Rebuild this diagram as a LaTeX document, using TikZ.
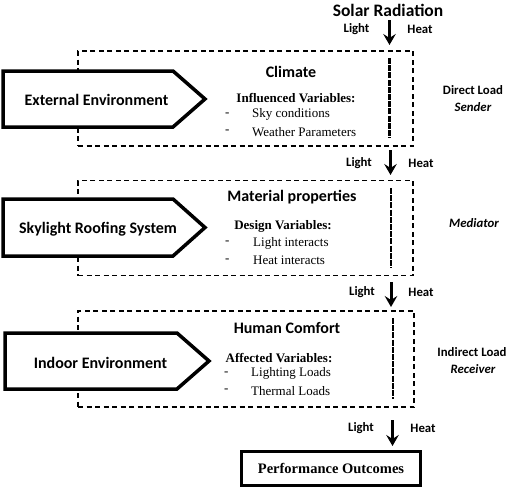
\documentclass[tikz,border=0pt]{standalone}
\usepackage{fontspec}
\setmainfont{Liberation Serif}
\newfontfamily\calfont{Carlito}
\usetikzlibrary{arrows.meta}
\begin{document}
\begin{tikzpicture}[x=1pt,y=-1pt,
  sanslbl/.style={font=\calfont\bfseries\fontsize{12.8}{14}\selectfont, inner sep=0pt},
  sanstitle/.style={font=\calfont\bfseries\fontsize{16}{18}\selectfont, inner sep=0pt},
  sideital/.style={font=\calfont\bfseries\itshape\fontsize{12.8}{14}\selectfont, inner sep=0pt},
  varhead/.style={font=\bfseries\fontsize{13}{15}\selectfont, inner sep=0pt},
  varitem/.style={font=\fontsize{13}{15}\selectfont, inner sep=0pt, anchor=west},
  dashbox/.style={draw, line width=1.2pt, dash pattern=on 5pt off 3.5pt},
  innerline/.style={line width=2.8pt, dash pattern=on 6pt off 1.2pt},
  penta/.style={draw, line width=3.5pt, line join=miter, fill=white},
  flow/.style={line width=3pt, -{Stealth[length=11pt,width=12.5pt,inset=4pt]}},
  pobox/.style={draw, line width=3pt, minimum width=179pt, minimum height=34pt, inner sep=0pt,
     font=\bfseries\fontsize{14.5}{16}\selectfont}
]
\useasboundingbox (0,0) rectangle (507,488);

% Solar radiation
\node[font=\calfont\bfseries\fontsize{17.5}{20}\selectfont, inner sep=0pt] (solar) at (388,10) {Solar Radiation};

% dashed boxes
\node[dashbox, minimum width=335pt, minimum height=95pt, inner sep=0pt] (box1) at (245.5,98.5) {};
\node[dashbox, minimum width=335pt, minimum height=95pt, inner sep=0pt] (box2) at (245.5,228) {};
\node[dashbox, minimum width=336pt, minimum height=96pt, inner sep=0pt] (box3) at (246,359) {};

% inner vertical lines
\coordinate (v1t) at (389.5,58); \coordinate (v1b) at (389.5,138);
\coordinate (v2t) at (391,188); \coordinate (v2b) at (391,268);
\coordinate (v3t) at (393,318); \coordinate (v3b) at (393,399);
\draw[innerline] (v1t) -- (v1b);
\draw[innerline] (v2t) -- (v2b);
\draw[innerline] (v3t) -- (v3b);

% pentagons
\draw[penta] (3,71) -- (173,71) -- (205,99) -- (173,127) -- (3,127) -- cycle;
\draw[penta] (3,199) -- (173,199) -- (205,227.5) -- (173,256) -- (3,256) -- cycle;
\draw[penta] (5,333) -- (177,333) -- (209,361) -- (177,389) -- (5,389) -- cycle;
\node[sanstitle] (ext) at (96.5,99.5) {External Environment};
\node[sanstitle] (sky) at (98,229.5) {Skylight Roofing System};
\node[sanstitle] (ind) at (100.5,363) {Indoor Environment};

% box 1 contents
\node[sanstitle] (clim) at (291,72) {Climate};
\node[varhead] (infl) at (296,98.5) {Influenced Variables:};
\node[varitem] (d11) at (225,114.5) {-};
\node[varitem] (sk) at (252,114.5) {Sky conditions};
\node[varitem] (d12) at (225,132) {-};
\node[varitem] (we) at (252,132) {Weather Parameters};

% box 2 contents
\node[sanstitle] (mat) at (292,197) {Material properties};
\node[varhead] (des) at (283,226.5) {Design Variables:};
\node[varitem] (d21) at (225,243) {-};
\node[varitem] (li) at (253,243) {Light interacts};
\node[varitem] (d22) at (225,260.5) {-};
\node[varitem] (he) at (253,260.5) {Heat interacts};

% box 3 contents
\node[sanstitle] (hum) at (287,328) {Human Comfort};
\node[varhead] (aff) at (279,358.5) {Affected Variables:};
\node[varitem] (d31) at (224,373.5) {-};
\node[varitem] (ll) at (251,373.5) {Lighting Loads};
\node[varitem] (d32) at (224,391) {-};
\node[varitem] (tl) at (251,391) {Thermal Loads};

% side labels
\node[sanslbl] (dl) at (473,90) {Direct Load};
\node[sideital] (snd) at (473,107.5) {Sender};
\node[sideital] (med) at (474,223.5) {Mediator};
\node[sanslbl] (il) at (472,352) {Indirect Load};
\node[sideital] (rcv) at (473,369.5) {Receiver};

% performance box
\node[pobox] (perf) at (331,468) {Performance Outcomes};

% arrows
\coordinate (a1s) at (389.5,20); \coordinate (a1e) at (389.5,45);
\coordinate (a2s) at (390.5,150); \coordinate (a2e) at (390.5,175);
\coordinate (a3s) at (391,282); \coordinate (a3e) at (391,307);
\coordinate (a4s) at (392.5,420); \coordinate (a4e) at (392.5,446);
\draw[flow] (a1s) -- (a1e);
\draw[flow] (a2s) -- (a2e);
\draw[flow] (a3s) -- (a3e);
\draw[flow] (a4s) -- (a4e);

\node[sanslbl] (l1) at (356.5,29.5) {Light};
\node[sanslbl] (h1) at (420,29.5) {Heat};
\node[sanslbl] (l2) at (359,163) {Light};
\node[sanslbl] (h2) at (421,163) {Heat};
\node[sanslbl] (l3) at (362,292) {Light};
\node[sanslbl] (h3) at (421,292) {Heat};
\node[sanslbl] (l4) at (361,428.5) {Light};
\node[sanslbl] (h4) at (423,428.5) {Heat};
\end{tikzpicture}
\end{document}
